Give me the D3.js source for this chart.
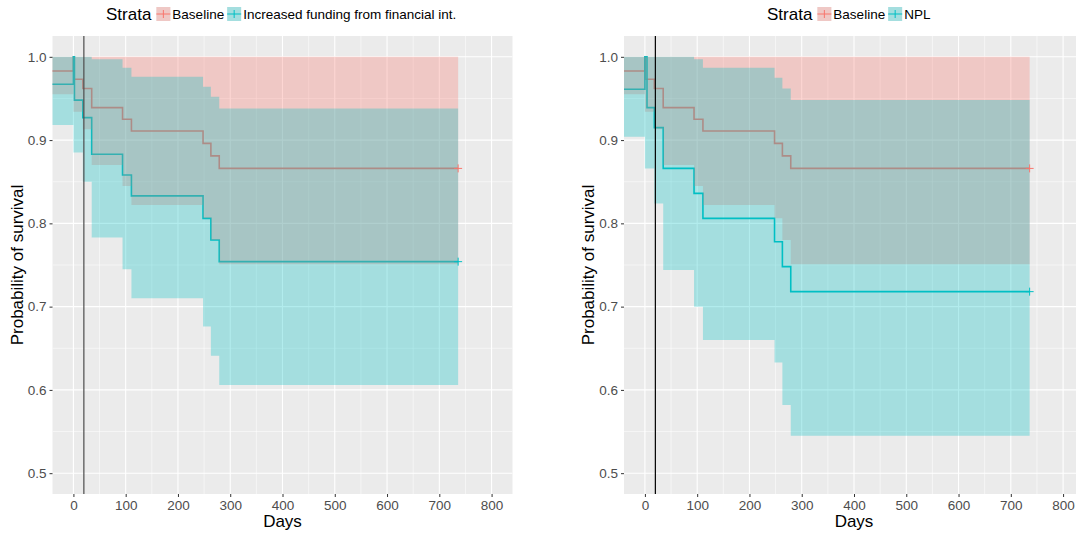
<!DOCTYPE html>
<html>
<head>
<meta charset="utf-8">
<script src="https://cdn.jsdelivr.net/npm/d3@7"></script>
<style>
  body { margin: 0; background: #fff; }
  svg { display: block; font-family: "Liberation Sans", Arial, sans-serif; }
</style>
</head>
<body>
<svg id="chart" width="1079" height="533"></svg>
<script>
// Curvas de sobrevivência (Kaplan-Meier).
// Baseline é a mesma nos dois painéis.
const baseTime  = [-60, 0, 1, 18, 35, 94, 111, 248, 263, 279, 736];
const baseSurv  = [0.983, 1.0, 0.973, 0.962, 0.939, 0.925, 0.911, 0.896, 0.881, 0.866, 0.866];
const baseUpper = [1, 1, 1, 1, 1, 1, 1, 1, 1, 1, 1];
const baseLower = [0.955, 0.934, 0.934, 0.913, 0.870, 0.845, 0.822, 0.806, 0.780, 0.751, 0.751];

const incTime  = [-60, 0, 2, 18, 35, 94, 111, 248, 263, 279, 736];
const incSurv  = [0.967, 1.0, 0.948, 0.927, 0.883, 0.858, 0.833, 0.806, 0.780, 0.754, 0.754];
const incUpper = [1, 1, 1, 1, 0.997, 0.987, 0.976, 0.964, 0.952, 0.938, 0.938];
const incLower = [0.918, 0.885, 0.885, 0.850, 0.783, 0.745, 0.710, 0.676, 0.641, 0.606, 0.606];

const nplTime  = [-60, 0, 4, 18, 35, 94, 111, 248, 263, 279, 736];
const nplSurv  = [0.961, 1.0, 0.939, 0.915, 0.866, 0.836, 0.806, 0.778, 0.748, 0.718, 0.718];
const nplUpper = [1, 1, 1, 1, 1, 0.997, 0.987, 0.975, 0.962, 0.948, 0.948];
const nplLower = [0.904, 0.866, 0.866, 0.824, 0.744, 0.700, 0.660, 0.633, 0.582, 0.545, 0.545];

const xTicks = [0, 100, 200, 300, 400, 500, 600, 700, 800];
const yTicks = [0.5, 0.6, 0.7, 0.8, 0.9, 1.0];
const cutDay = 20;

const RED = "#F8766D", TEAL = "#00BFC4";

const svg = d3.select("#chart");

function series(time, surv, upper, lower) {
    return time.map(function (t, i) {
        return { t: t, s: surv[i], hi: upper[i], lo: lower[i] };
    });
}

function drawPanel(opts) {
    var x = d3.scaleLinear().domain([-40, 840]).range([opts.left, opts.left + 460]);
    var y = d3.scaleLinear().domain([0.475, 1.025]).range([494, 36]);
    var right = Math.min(opts.left + 460, opts.clipRight);

    var g = svg.append("g");
    var clipId = "clip" + opts.id;
    svg.append("clipPath").attr("id", clipId)
        .append("rect")
        .attr("x", opts.left).attr("y", 36)
        .attr("width", right - opts.left).attr("height", 458);

    // fundo e grade
    g.append("rect")
        .attr("x", opts.left).attr("y", 36)
        .attr("width", right - opts.left).attr("height", 458)
        .attr("fill", "#EBEBEB");

    var grid = g.append("g").attr("clip-path", "url(#" + clipId + ")");
    d3.range(50, 800, 100).forEach(function (d) {
        grid.append("line").attr("x1", x(d)).attr("x2", x(d)).attr("y1", 36).attr("y2", 494)
            .attr("stroke", "#fff").attr("stroke-width", 0.55);
    });
    d3.range(0.55, 1.0, 0.1).forEach(function (d) {
        grid.append("line").attr("x1", opts.left).attr("x2", right).attr("y1", y(d)).attr("y2", y(d))
            .attr("stroke", "#fff").attr("stroke-width", 0.55);
    });
    xTicks.forEach(function (d) {
        grid.append("line").attr("x1", x(d)).attr("x2", x(d)).attr("y1", 36).attr("y2", 494)
            .attr("stroke", "#fff").attr("stroke-width", 1.1);
    });
    yTicks.forEach(function (d) {
        grid.append("line").attr("x1", opts.left).attr("x2", right).attr("y1", y(d)).attr("y2", y(d))
            .attr("stroke", "#fff").attr("stroke-width", 1.1);
    });

    var plot = g.append("g").attr("clip-path", "url(#" + clipId + ")");

    var line = d3.line()
        .x(function (d) { return x(d.t); })
        .y(function (d) { return y(d.s); })
        .curve(d3.curveStepAfter);
    var band = d3.area()
        .x(function (d) { return x(d.t); })
        .y0(function (d) { return y(d.lo); })
        .y1(function (d) { return y(d.hi); })
        .curve(d3.curveStepAfter);

    opts.series.forEach(function (s) {
        plot.append("path").attr("d", line(s.data))
            .attr("fill", "none").attr("stroke", s.color).attr("stroke-width", 1.6);
    });
    opts.series.forEach(function (s) {
        plot.append("path").attr("d", band(s.data))
            .attr("fill", s.color).attr("fill-opacity", 0.3).attr("stroke", "none");
    });
    // marcas de censura no fim
    opts.series.forEach(function (s) {
        var last = s.data[s.data.length - 1];
        var cx = x(last.t), cy = y(last.s);
        plot.append("path")
            .attr("d", "M" + (cx - 4) + "," + cy + "H" + (cx + 4) + "M" + cx + "," + (cy - 4) + "V" + (cy + 4))
            .attr("stroke", s.color).attr("stroke-width", 1);
    });

    plot.append("line")
        .attr("x1", x(cutDay)).attr("x2", x(cutDay)).attr("y1", 36).attr("y2", 494)
        .attr("stroke", opts.cutColor).attr("stroke-width", 1.2);

    // eixos
    var yAxis = d3.axisLeft(y).tickValues(yTicks).tickSize(3).tickPadding(3)
        .tickFormat(d3.format(".1f"));
    var ya = g.append("g").attr("transform", "translate(" + opts.left + ",0)").call(yAxis);
    var xAxis = d3.axisBottom(x).tickValues(xTicks).tickSize(3).tickPadding(3);
    var xa = g.append("g").attr("transform", "translate(0,494)").call(xAxis);
    [ya, xa].forEach(function (a) {
        a.select(".domain").remove();
        a.selectAll(".tick line").attr("stroke", "#333333");
        a.selectAll(".tick text").attr("fill", "#4D4D4D")
            .style("font-size", "13.5px").style("font-family", "'Liberation Sans', Arial, sans-serif");
    });

    g.append("text")
        .attr("transform", "translate(" + (opts.left - 30) + "," + 265 + ") rotate(-90)")
        .attr("text-anchor", "middle")
        .style("font-size", "17px").attr("fill", "#000")
        .text("Probability of survival");
    g.append("text")
        .attr("x", opts.left + 230).attr("y", 527)
        .attr("text-anchor", "middle")
        .style("font-size", "17px").attr("fill", "#000")
        .text("Days");

    // legenda
    var lx = opts.legendX;
    var title = g.append("text").attr("x", lx).attr("y", 20)
        .style("font-size", "17px").attr("fill", "#000").text("Strata");
    lx += title.node().getComputedTextLength() + 5;
    opts.series.forEach(function (s) {
        var key = g.append("g").attr("transform", "translate(" + lx + ",7)");
        key.append("rect").attr("width", 14).attr("height", 14).attr("fill", "#EBEBEB");
        key.append("rect").attr("width", 14).attr("height", 14).attr("fill", s.color).attr("fill-opacity", 0.3);
        key.append("path").attr("d", "M0,7H14M7,3V11").attr("stroke", s.color).attr("stroke-width", 1);
        lx += 16;
        var t = g.append("text").attr("x", lx).attr("y", 19)
            .style("font-size", "13.5px").attr("fill", "#000").text(s.label);
        lx += t.node().getComputedTextLength() + 3;
    });
}

drawPanel({
    id: "a", left: 52.5, clipRight: 1079, legendX: 106, cutColor: "#4d4d4d",
    series: [
        { label: "Baseline", color: RED, data: series(baseTime, baseSurv, baseUpper, baseLower) },
        { label: "Increased funding from financial int.", color: TEAL, data: series(incTime, incSurv, incUpper, incLower) }
    ]
});

drawPanel({
    id: "b", left: 624, clipRight: 1076, legendX: 767, cutColor: "#000",
    series: [
        { label: "Baseline", color: RED, data: series(baseTime, baseSurv, baseUpper, baseLower) },
        { label: "NPL", color: TEAL, data: series(nplTime, nplSurv, nplUpper, nplLower) }
    ]
});
</script>
</body>
</html>
